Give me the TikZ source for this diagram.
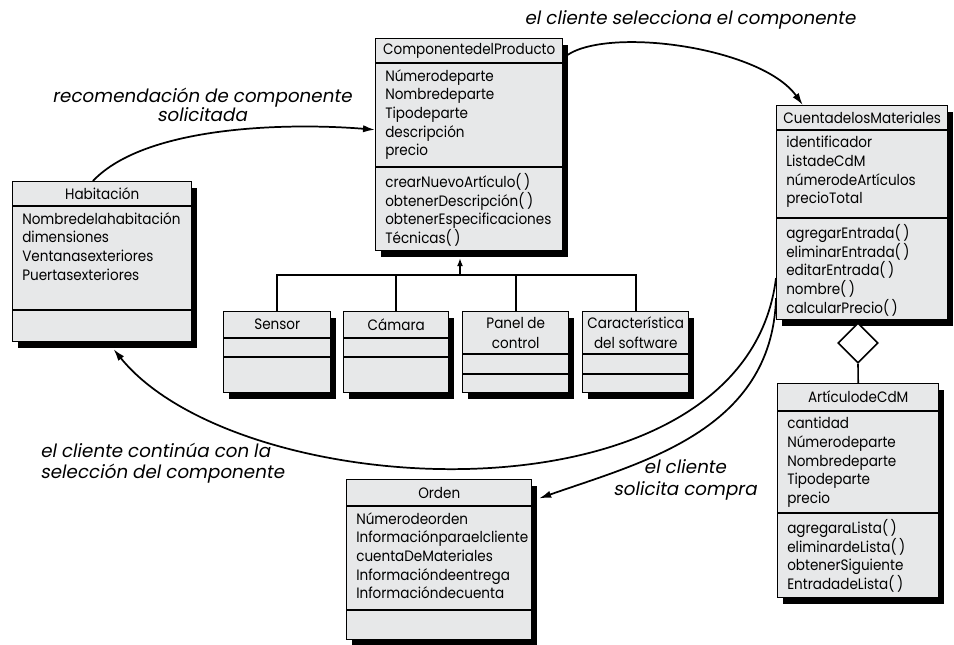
\documentclass[tikz,border=0pt]{standalone}
\usepackage{fontspec}
\setmainfont[FakeStretch=0.9]{Poppins}
\newfontfamily\lblfont[FakeSlant=0.18]{Poppins}
\usepackage{xcolor}
\usetikzlibrary{arrows.meta,positioning,calc,shapes.geometric}
\definecolor{clsfill}{RGB}{231,232,233}

\begin{document}
\begin{tikzpicture}[x=0.75pt, y=-0.75pt, >=Latex,
  cls/.style={draw, line width=1.1pt, fill=clsfill, anchor=north west, inner sep=0pt,
    preaction={draw=none, fill=black, transform canvas={xshift=3.75pt, yshift=-4.5pt}}},
  ttl/.style={inner sep=0pt, align=center, font=\fontsize{11.3}{15}\selectfont},
  attr/.style={anchor=north west, inner sep=0pt, align=left, font=\fontsize{11.3}{14}\selectfont, execute at begin node=\strut},
  sepl/.style={line width=1.1pt},
  flow/.style={line width=1.3pt, -{Latex[length=9pt,width=5.5pt]}},
  agg/.style={diamond, draw, fill=white, line width=1.2pt, aspect=1, minimum width=30pt, minimum height=30pt, inner sep=0pt},
  lbl/.style={align=center, inner sep=0pt, font=\lblfont\fontsize{13.75}{14.5}\selectfont}]
  \path[use as bounding box] (0,0) rectangle (954,644);

  % Habitacion
  \node[cls, minimum width=134.25pt, minimum height=120pt] (hab) at (12,181) {};
  \node[ttl] (hab-t) at ([yshift=-9.375pt]hab.north) {Habitación};
  \draw[sepl] ([yshift=-18.75pt]hab.north west) -- ([yshift=-18.75pt]hab.north east);
  \draw[sepl] ([yshift=-96.75pt]hab.north west) -- ([yshift=-96.75pt]hab.north east);
  \node[attr] (hab-a) at ([xshift=7.5pt,yshift=-23.25pt]hab.north west) {Nombredelahabitación\\dimensiones\\Ventanasexteriores\\Puertasexteriores};

  % ComponentedelProducto
  \node[cls, minimum width=140.25pt, minimum height=159pt] (comp) at (375,38) {};
  \node[ttl] (comp-t) at ([yshift=-9.375pt]comp.north) {ComponentedelProducto};
  \draw[sepl] ([yshift=-18.75pt]comp.north west) -- ([yshift=-18.75pt]comp.north east);
  \draw[sepl] ([yshift=-96.75pt]comp.north west) -- ([yshift=-96.75pt]comp.north east);
  \node[attr] (comp-a) at ([xshift=7.5pt,yshift=-23.25pt]comp.north west) {Númerodeparte\\Nombredeparte\\Tipodeparte\\descripción\\precio};
  \node[attr] (comp-m) at ([xshift=7.5pt,yshift=-101.25pt]comp.north west) {crearNuevoArtículo(\,)\\obtenerDescripción(\,)\\obtenerEspecificaciones\\Técnicas(\,)};

  % CuentadelosMateriales
  \node[cls, minimum width=128.25pt, minimum height=160.5pt] (cuenta) at (776,105) {};
  \node[ttl] (cuenta-t) at ([yshift=-9.375pt]cuenta.north) {CuentadelosMateriales};
  \draw[sepl] ([yshift=-18.75pt]cuenta.north west) -- ([yshift=-18.75pt]cuenta.north east);
  \draw[sepl] ([yshift=-84.75pt]cuenta.north west) -- ([yshift=-84.75pt]cuenta.north east);
  \node[attr] (cuenta-a) at ([xshift=7.5pt,yshift=-23.25pt]cuenta.north west) {identificador\\ListadeCdM\\númerodeArtículos\\precioTotal};
  \node[attr] (cuenta-m) at ([xshift=7.5pt,yshift=-89.25pt]cuenta.north west) {agregarEntrada(\,)\\eliminarEntrada(\,)\\editarEntrada(\,)\\nombre(\,)\\calcularPrecio(\,)};

  % ArticulodeCdM
  \node[cls, minimum width=120.75pt, minimum height=160.5pt] (art) at (777,383) {};
  \node[ttl] (art-t) at ([yshift=-10.5pt]art.north) {ArtículodeCdM};
  \draw[sepl] ([yshift=-21pt]art.north west) -- ([yshift=-21pt]art.north east);
  \draw[sepl] ([yshift=-97.5pt]art.north west) -- ([yshift=-97.5pt]art.north east);
  \node[attr] (art-a) at ([xshift=7.5pt,yshift=-25.5pt]art.north west) {cantidad\\Númerodeparte\\Nombredeparte\\Tipodeparte\\precio};
  \node[attr] (art-m) at ([xshift=7.5pt,yshift=-102pt]art.north west) {agregaraLista(\,)\\eliminardeLista(\,)\\obtenerSiguiente\\EntradadeLista(\,)};

  % Orden
  \node[cls, minimum width=138.75pt, minimum height=120pt] (orden) at (346,479) {};
  \node[ttl] (orden-t) at ([yshift=-10.125pt]orden.north) {Orden};
  \draw[sepl] ([yshift=-20.25pt]orden.north west) -- ([yshift=-20.25pt]orden.north east);
  \draw[sepl] ([yshift=-98.25pt]orden.north west) -- ([yshift=-98.25pt]orden.north east);
  \node[attr] (orden-a) at ([xshift=7.5pt,yshift=-24.75pt]orden.north west) {Númerodeorden\\Informaciónparaelcliente\\cuentaDeMateriales\\Informacióndeentrega\\Informacióndecuenta};

  % subclases
  \node[cls, minimum width=80.25pt, minimum height=60.75pt] (sensor) at (223,311) {};
  \node[ttl] (sensor-t) at ([yshift=-10.125pt]sensor.north) {Sensor};
  \draw[sepl] ([yshift=-20.25pt]sensor.north west) -- ([yshift=-20.25pt]sensor.north east);
  \draw[sepl] ([yshift=-34.5pt]sensor.north west) -- ([yshift=-34.5pt]sensor.north east);
  \node[cls, minimum width=78.75pt, minimum height=60.75pt] (camara) at (343,311) {};
  \node[ttl] (camara-t) at ([yshift=-10.125pt]camara.north) {Cámara};
  \draw[sepl] ([yshift=-20.25pt]camara.north west) -- ([yshift=-20.25pt]camara.north east);
  \draw[sepl] ([yshift=-34.5pt]camara.north west) -- ([yshift=-34.5pt]camara.north east);
  \node[cls, minimum width=79.5pt, minimum height=60.75pt] (panel) at (462,311) {};
  \node[ttl] (panel-t) at ([yshift=-16.125pt]panel.north) {Panel de\\control};
  \draw[sepl] ([yshift=-32.25pt]panel.north west) -- ([yshift=-32.25pt]panel.north east);
  \draw[sepl] ([yshift=-47.25pt]panel.north west) -- ([yshift=-47.25pt]panel.north east);
  \node[cls, minimum width=79.5pt, minimum height=60.75pt] (carac) at (582,311) {};
  \node[ttl] (carac-t) at ([yshift=-16.125pt]carac.north) {Característica\\del software};
  \draw[sepl] ([yshift=-32.25pt]carac.north west) -- ([yshift=-32.25pt]carac.north east);
  \draw[sepl] ([yshift=-47.25pt]carac.north west) -- ([yshift=-47.25pt]carac.north east);

  % generalizacion
  \coordinate (inh) at (460,275);
  \draw[line width=1.3pt] (sensor.north) |- (inh) -| (carac.north);
  \draw[line width=1.3pt] (camara.north) -- (camara.north |- inh);
  \draw[line width=1.3pt] (panel.north) -- (panel.north |- inh);
  \draw[line width=1.3pt, -{Latex[length=6pt,width=4.5pt]}] (inh) -- ([yshift=-5pt]inh |- comp.south);

  % agregacion
  \node[agg] (agg) at (858,343) {};
  \draw[line width=1.2pt] (agg.south) -- (art.north);

  % flujos
  \draw[flow] ([xshift=-7pt]hab.north) .. controls +(53,-56) and +(-85,-7) .. ([yshift=11.25pt]comp.west);
  \draw[flow] ([yshift=-15pt]comp.north east) .. controls +(37,-33) and +(-42,-59) .. ([xshift=-44.6pt]cuenta.north);
  \draw[flow] ([yshift=-49pt]cuenta.west) .. controls +(-31,253) and +(127,157) .. ([xshift=8.5pt,yshift=-5pt]hab.south);
  \draw[flow] ([yshift=-64pt]cuenta.west) .. controls +(-4,133) and +(102,-36) .. ([xshift=5pt,yshift=46pt]orden.east);

  \node[lbl] (recl) at (202,105) {recomendación de componente\\solicitada};
  \node[lbl] (sell) at (690,20) {el cliente selecciona el componente};
  \node[lbl, align=left, anchor=west, font=\lblfont\fontsize{13.75}{16}\selectfont] (contl) at (40,463) {el cliente continúa con la\\selección del componente};
  \node[lbl, font=\lblfont\fontsize{13.75}{16}\selectfont] (soll) at (685,480) {el cliente\\solicita compra};
\end{tikzpicture}
\end{document}
